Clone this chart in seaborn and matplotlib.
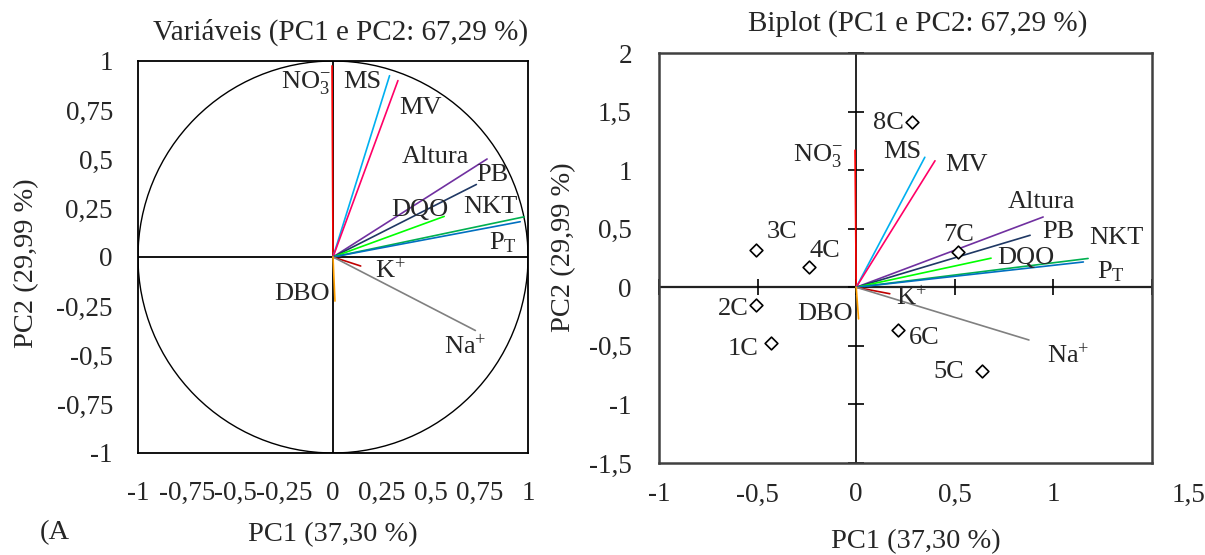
import numpy as np
import pandas as pd
import matplotlib
matplotlib.use("Agg")
import matplotlib.pyplot as plt
import seaborn as sns

# Variable loadings on the first two principal components
variables = ["NO3", "MS", "MV", "Altura", "PB", "DQO", "NKT", "PT", "K", "Na", "DBO"]
var_labels = [r"NO$_\mathregular{3}^\mathregular{-}$", "MS", "MV", "Altura", "PB", "DQO", "NKT",
              r"P$_\mathregular{T}$", r"K$^\mathregular{+}$", r"Na$^\mathregular{+}$", "DBO"]
load_pc1 = [-0.005, 0.29, 0.333, 0.79, 0.735, 0.57, 0.98, 0.96, 0.142, 0.73, 0.01]
load_pc2 = [0.975, 0.925, 0.90, 0.50, 0.37, 0.207, 0.205, 0.18, -0.046, -0.375, -0.225]

# Sample scores
samples = ["1C", "2C", "3C", "4C", "5C", "6C", "7C", "8C"]
score_pc1 = [-0.433, -0.506, -0.506, -0.239, 0.64, 0.213, 0.518, 0.283]
score_pc2 = [-0.475, -0.15, 0.316, 0.17, -0.718, -0.364, 0.30, 1.415]

# Scale factor applied to the loading vectors in the biplot
BIPLOT_SCALE = 1.2

var_colors = ["#FF0000", "#00B0F0", "#FF0066", "#7030A0", "#1F3864", "#00FF00",
              "#00B050", "#0070C0", "#C00000", "#808080", "#FFA000"]

# Label placement (offset in pixels, horizontal alignment) for each panel
left_label_pos = {
    "NO3": (-1, -17, "right"), "MS": (-8, -6, "right"), "MV": (1, -27, "left"),
    "Altura": (-18, 2, "right"), "PB": (0, 9, "left"), "DQO": (4, 6, "right"),
    "NKT": (-7, 10, "right"), "PT": (-3, -21, "right"), "K": (14, -5, "left"),
    "Na": (-31, -17, "left"), "DBO": (-5, 7, "right"),
}
right_label_pos = {
    "NO3": (-12, -5, "right"), "MS": (-3, 5, "right"), "MV": (10, -4, "left"),
    "Altura": (-2, 15, "center"), "PB": (12, 3, "left"), "DQO": (6, 0, "left"),
    "NKT": (1, 20, "left"), "PT": (14, -10, "left"), "K": (6, -5, "left"),
    "Na": (18, -16, "left"), "DBO": (-6, 5, "right"),
}
sample_label_pos = {
    "1C": (-12, -6, "right"), "2C": (-8, -4, "right"), "3C": (10, 18, "left"),
    "4C": (0, 16, "left"), "5C": (-18, -1, "right"), "6C": (11, -8, "left"),
    "7C": (0, 17, "center"), "8C": (-8, -1, "right"),
}

sns.set_theme(style="white")
plt.rcParams["font.family"] = ["Liberation Serif", "DejaVu Serif"]
plt.rcParams["mathtext.fontset"] = "custom"
plt.rcParams["mathtext.rm"] = "Liberation Serif"
plt.rcParams["mathtext.it"] = "Liberation Serif:italic"

TICK_FS = 19.5
LABEL_FS = 20.5
TITLE_FS = 21
TEXT_FS = 19

fig = plt.figure(figsize=(12.05, 5.55), dpi=100)
ax1 = fig.add_axes([0.1145, 0.1838, 0.3237, 0.7063])
ax2 = fig.add_axes([0.5469, 0.1658, 0.4091, 0.7387])

loadings = pd.DataFrame({"var": variables, "label": var_labels,
                         "pc1": load_pc1, "pc2": load_pc2, "color": var_colors})
scores = pd.DataFrame({"sample": samples, "pc1": score_pc1, "pc2": score_pc2})

# ---------- Correlation circle ----------
ax1.set_xlim(-1, 1)
ax1.set_ylim(-1, 1)
ax1.add_patch(plt.Circle((0, 0), 1, fill=False, color="black", lw=1.0))
ax1.axhline(0, color="black", lw=1.3, zorder=1)
ax1.axvline(0, color="black", lw=1.3, zorder=1)
for _, r in loadings.iterrows():
    ax1.plot([0, r.pc1], [0, r.pc2], color=r.color, lw=1.2, zorder=2)
    dx, dy, ha = left_label_pos[r["var"]]
    ax1.annotate(r.label, (r.pc1, r.pc2), xytext=(dx, dy), textcoords="offset pixels",
                 ha=ha, va="center", fontsize=TEXT_FS)

ticks1 = [-1, -0.75, -0.5, -0.25, 0, 0.25, 0.5, 0.75, 1]
tick1_labels = ["-1", "-0,75", "-0,5", "-0,25", "0", "0,25", "0,5", "0,75", "1"]
ax1.set_xticks(ticks1, tick1_labels)
ax1.set_yticks(ticks1, tick1_labels)
ax1.tick_params(axis="both", length=0, labelsize=TICK_FS)
ax1.tick_params(axis="y", pad=18)
ax1.tick_params(axis="x", pad=20)
for s in ax1.spines.values():
    s.set_color("black")
    s.set_linewidth(1.3)
ax1.set_xlabel("PC1 (37,30 %)", fontsize=LABEL_FS)
ax1.set_ylabel("PC2 (29,99 %)", fontsize=LABEL_FS)
ax1.xaxis.set_label_coords(0.5, -0.176)
ax1.yaxis.set_label_coords(-0.254, 0.485)
ax1.text(0.52, 1.074, "Variáveis (PC1 e PC2: 67,29 %)", transform=ax1.transAxes,
         ha="center", va="center", fontsize=TITLE_FS)

# ---------- Biplot ----------
ax2.set_xlim(-1, 1.5)
ax2.set_ylim(-1.5, 2)
ax2.axhline(0, color="#222222", lw=1.6, zorder=1)
ax2.axvline(0, color="black", lw=1.2, zorder=1)

xticks2 = [-1, -0.5, 0, 0.5, 1, 1.5]
xtick2_labels = ["-1", "-0,5", "0", "0,5", "1", "1,5"]
yticks2 = [-1.5, -1, -0.5, 0, 0.5, 1, 1.5, 2]
ytick2_labels = ["-1,5", "-1", "-0,5", "0", "0,5", "1", "1,5", "2"]

# tick marks crossing the central axes
ax2.plot(xticks2, [0] * len(xticks2), ls="none", marker="|", ms=12, mew=1.2,
         color="black", zorder=1, clip_on=False)
ax2.plot([0] * len(yticks2), yticks2, ls="none", marker="_", ms=12, mew=1.2,
         color="black", zorder=1, clip_on=False)

for _, r in loadings.iterrows():
    x, y = BIPLOT_SCALE * r.pc1, BIPLOT_SCALE * r.pc2
    ax2.plot([0, x], [0, y], color=r.color, lw=1.2, zorder=2)
    dx, dy, ha = right_label_pos[r["var"]]
    ax2.annotate(r.label, (x, y), xytext=(dx, dy), textcoords="offset pixels",
                 ha=ha, va="center", fontsize=TEXT_FS)

sns.scatterplot(data=scores, x="pc1", y="pc2", marker="D", s=42, facecolor="white",
                edgecolor="black", linewidth=1.2, ax=ax2, zorder=3)
for _, r in scores.iterrows():
    dx, dy, ha = sample_label_pos[r["sample"]]
    ax2.annotate(r["sample"], (r.pc1, r.pc2), xytext=(dx, dy), textcoords="offset pixels",
                 ha=ha, va="center", fontsize=TEXT_FS)

# the last x label sits past the frame, near the right edge
ax2.set_xticks(xticks2[:-1], xtick2_labels[:-1])
ax2.annotate(xtick2_labels[-1], xy=(xticks2[-1], 0), xycoords=ax2.get_xaxis_transform(),
             xytext=(37, -20), textcoords="offset pixels", ha="center", va="top",
             fontsize=TICK_FS, annotation_clip=False)
ax2.set_yticks(yticks2, ytick2_labels)
ax2.tick_params(axis="both", length=0, labelsize=TICK_FS)
ax2.tick_params(axis="y", pad=19.5)
ax2.tick_params(axis="x", pad=14)
for s in ax2.spines.values():
    s.set_color("#404040")
    s.set_linewidth(1.8)
ax2.set_xlabel("PC1 (37,30 %)", fontsize=LABEL_FS)
ax2.set_ylabel("PC2 (29,99 %)", fontsize=LABEL_FS)
ax2.xaxis.set_label_coords(0.521, -0.162)
ax2.yaxis.set_label_coords(-0.168, 0.527)
ax2.text(0.525, 1.073, "Biplot (PC1 e PC2: 67,29 %)", transform=ax2.transAxes,
         ha="center", va="center", fontsize=TITLE_FS)

fig.text(0.033, 1 - 533 / 555, "(A", ha="left", va="center", fontsize=LABEL_FS)

fig.savefig("out.png", dpi=100)
